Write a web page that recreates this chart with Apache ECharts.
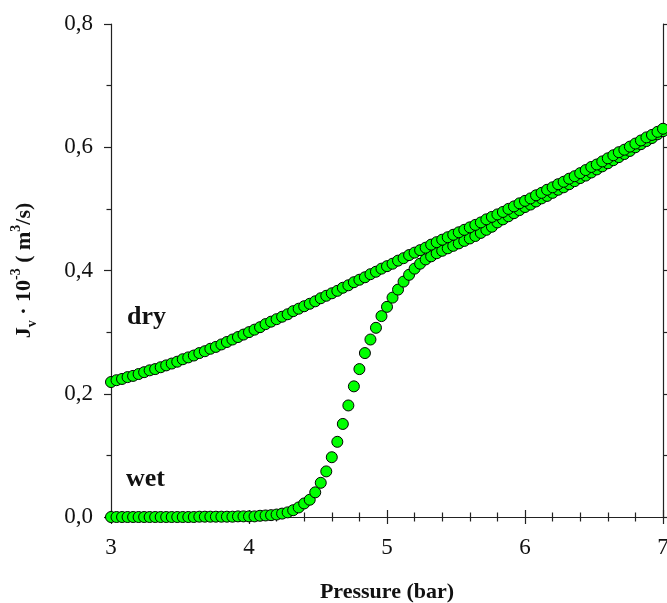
<!DOCTYPE html>
<html>
<head>
<meta charset="utf-8">
<script src="https://cdn.jsdelivr.net/npm/echarts@6/dist/echarts.min.js"></script>
<style>
html,body{margin:0;padding:0;background:#fff;}
#chart{width:667px;height:603px;}
</style>
</head>
<body>
<div id="chart"></div>
<script>
// Pressure values (bar)
var pressure = [
3.00,3.04,3.08,3.12,3.16,3.20,3.24,3.28,3.32,3.36,3.40,3.44,3.48,3.52,3.56,3.60,3.64,3.68,3.72,3.76,
3.80,3.84,3.88,3.92,3.96,4.00,4.04,4.08,4.12,4.16,4.20,4.24,4.28,4.32,4.36,4.40,4.44,4.48,4.52,4.56,
4.60,4.64,4.68,4.72,4.76,4.80,4.84,4.88,4.92,4.96,5.00,5.04,5.08,5.12,5.16,5.20,5.24,5.28,5.32,5.36,
5.40,5.44,5.48,5.52,5.56,5.60,5.64,5.68,5.72,5.76,5.80,5.84,5.88,5.92,5.96,6.00,6.04,6.08,6.12,6.16,
6.20,6.24,6.28,6.32,6.36,6.40,6.44,6.48,6.52,6.56,6.60,6.64,6.68,6.72,6.76,6.80,6.84,6.88,6.92,6.96,7.00
];
// dry membrane flux Jv*10^-3 (m3/s)
var dryFlux = [
0.219,0.222,0.224,0.227,0.229,0.232,0.235,0.238,0.240,0.243,0.246,0.249,0.252,0.256,0.259,0.262,0.266,0.269,0.273,0.276,
0.280,0.284,0.288,0.292,0.296,0.300,0.304,0.308,0.313,0.317,0.321,0.325,0.329,0.334,0.338,0.342,0.346,0.350,0.355,0.359,
0.363,0.367,0.372,0.376,0.381,0.385,0.389,0.394,0.398,0.403,0.407,0.411,0.416,0.420,0.425,0.429,0.433,0.437,0.442,0.446,
0.450,0.454,0.458,0.462,0.466,0.470,0.474,0.478,0.483,0.487,0.491,0.495,0.500,0.504,0.509,0.513,0.517,0.522,0.526,0.531,
0.535,0.540,0.544,0.549,0.553,0.558,0.563,0.568,0.572,0.577,0.582,0.587,0.592,0.596,0.601,0.606,0.611,0.616,0.620,0.625,0.630
];
// wet membrane flux Jv*10^-3 (m3/s)
var wetFlux = [
0.000,0.000,0.000,0.000,0.000,0.000,0.000,0.000,0.000,0.000,0.000,0.000,0.000,0.000,0.000,0.000,0.0005,0.0005,0.0005,0.0005,
0.0005,0.0005,0.0005,0.001,0.001,0.001,0.001,0.002,0.0025,0.003,0.004,0.0055,0.0075,0.011,0.0155,0.022,0.028,0.040,0.0555,0.074,
0.097,0.122,0.151,0.181,0.212,0.240,0.266,0.288,0.307,0.326,0.341,0.356,0.369,0.382,0.393,0.403,0.411,0.418,0.423,0.428,
0.432,0.436,0.440,0.444,0.448,0.452,0.456,0.461,0.466,0.471,0.478,0.483,0.488,0.493,0.498,0.503,0.507,0.512,0.517,0.521,
0.526,0.531,0.535,0.540,0.545,0.550,0.554,0.559,0.564,0.569,0.574,0.579,0.584,0.589,0.594,0.600,0.605,0.610,0.615,0.621,0.626
];
var xTicks = [3, 4, 5, 6, 7];
var yTicks = ['0,0', '0,2', '0,4', '0,6', '0,8'];

var FONT = '"Liberation Serif", "Times New Roman", serif';
var chart = echarts.init(document.getElementById('chart'), null, {renderer: 'canvas'});

function pairs(xs, ys) {
  return xs.map(function (x, i) { return [x, ys[i]]; });
}

var axisLine = {show: true, lineStyle: {color: '#222', width: 1.2}};
var tick = {show: true, inside: false, length: 7, lineStyle: {color: '#222', width: 1.2}};
var minor = {show: true, length: 4.5, lineStyle: {color: '#222', width: 1.2}};

var option = {
  animation: false,
  backgroundColor: '#fff',
  grid: {left: 111, right: 4, top: 24, bottom: 86, containLabel: false, outerBoundsMode: 'none'},
  xAxis: [{
    type: 'value', position: 'bottom', min: 3, max: 7, interval: 1,
    axisLine: axisLine, axisTick: tick,
    minorTick: Object.assign({splitNumber: 5}, minor),
    splitLine: {show: false}, minorSplitLine: {show: false},
    axisLabel: {margin: 19, color: '#111', fontFamily: FONT, fontSize: 23,
      formatter: function (v) { return xTicks.indexOf(v) >= 0 ? String(v) : ''; }},
    name: 'Pressure (bar)', nameLocation: 'middle', nameGap: 64,
    nameTextStyle: {fontFamily: FONT, fontSize: 22, fontWeight: 'bold', color: '#111'}
  }, {
    type: 'value', position: 'top', min: 3, max: 7, interval: 1,
    axisLine: axisLine, axisTick: tick,
    minorTick: Object.assign({splitNumber: 5}, minor),
    splitLine: {show: false}, axisLabel: {show: false}
  }],
  yAxis: [{
    type: 'value', position: 'left', min: 0, max: 0.8, interval: 0.2,
    axisLine: axisLine, axisTick: tick,
    minorTick: Object.assign({splitNumber: 2}, minor),
    splitLine: {show: false}, minorSplitLine: {show: false},
    axisLabel: {margin: 18, color: '#111', fontFamily: FONT, fontSize: 23,
      formatter: function (v) { return yTicks[Math.round(v / 0.2)]; }},
    name: '{b|J}{sub|v}{b| · 10}{sup|-3}{b| ( m}{sup|3}{b|/s)}',
    nameLocation: 'middle', nameGap: 72, nameRotate: 90,
    nameTextStyle: {
      color: '#111',
      rich: {
        b: {fontFamily: FONT, fontSize: 22, fontWeight: 'bold', color: '#111', lineHeight: 30, verticalAlign: 'middle'},
        sup: {fontFamily: FONT, fontSize: 14, fontWeight: 'bold', color: '#111', lineHeight: 14, verticalAlign: 'top'},
        sub: {fontFamily: FONT, fontSize: 14, fontWeight: 'bold', color: '#111', lineHeight: 14, verticalAlign: 'bottom'}
      }
    }
  }, {
    type: 'value', position: 'right', min: 0, max: 0.8, interval: 0.2,
    axisLine: axisLine, axisTick: tick,
    minorTick: Object.assign({splitNumber: 2}, minor),
    splitLine: {show: false}, axisLabel: {show: false}
  }],
  graphic: [
    {type: 'text', left: 127, top: 304, style: {text: 'dry', font: 'bold 26px ' + FONT, fill: '#111'}},
    {type: 'text', left: 126, top: 466, style: {text: 'wet', font: 'bold 26px ' + FONT, fill: '#111'}}
  ],
  series: [{
    name: 'wet', type: 'scatter', xAxisIndex: 0, yAxisIndex: 0,
    data: pairs(pressure, wetFlux), symbol: 'circle', symbolSize: 11,
    itemStyle: {color: '#00ff00', borderColor: '#000', borderWidth: 1, opacity: 1},
    emphasis: {disabled: true}, clip: false
  }, {
    name: 'dry', type: 'scatter', xAxisIndex: 0, yAxisIndex: 0,
    data: pairs(pressure, dryFlux), symbol: 'circle', symbolSize: 11,
    itemStyle: {color: '#00ff00', borderColor: '#000', borderWidth: 1, opacity: 1},
    emphasis: {disabled: true}, clip: false
  }]
};
chart.setOption(option);
</script>
</body>
</html>
